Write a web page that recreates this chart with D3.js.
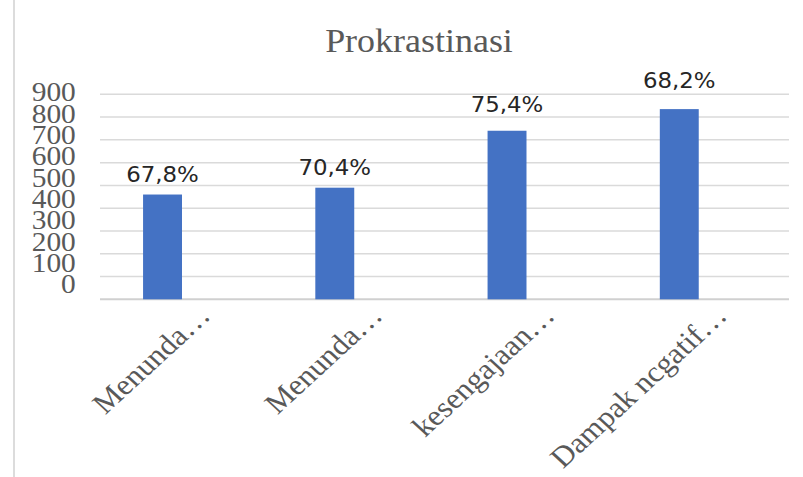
<!DOCTYPE html>
<html>
<head>
<meta charset="utf-8">
<script src="https://cdn.jsdelivr.net/npm/d3@7"></script>
<style>
  body { margin: 0; background: #fff; }
</style>
</head>
<body>
<svg id="chart" width="803" height="477"></svg>
<script>
// chart data
var title = "Prokrastinasi";
var categories = ["Menunda\u2026", "Menunda\u2026", "kesengajaan\u2026", "Dampak ncgatif\u2026"];
var values = [460, 490, 740, 835];
var valueLabels = ["67,8%", "70,4%", "75,4%", "68,2%"];
var yTicks = [0, 100, 200, 300, 400, 500, 600, 700, 800, 900];

// the source picture is a bit wider than tall, text gets the same stretch
var sx = 1.09;
var serif = "'Liberation Serif', 'Times New Roman', serif";
var grey = "#595959";

var svg = d3.select("#chart");

// left page border
svg.append("line")
    .attr("x1", 14).attr("x2", 14)
    .attr("y1", 0).attr("y2", 477)
    .attr("stroke", "#dcdcdc")
    .attr("stroke-width", 2);

var x = d3.scaleBand()
    .domain(d3.range(categories.length))
    .range([100, 789]);

var y = d3.scaleLinear()
    .domain([0, 900])
    .range([299.3, 94.3]);

// tick labels and value labels sit on their own (squeezed) scales in the picture
var yLabel = d3.scaleLinear().domain([0, 900]).range([292.7, 100.7]);
var yValue = d3.scaleLinear().domain([0, 900]).range([298.4, 71.5]);

// gridlines
svg.append("g")
    .selectAll("line")
    .data(yTicks)
    .enter().append("line")
    .attr("x1", 100)
    .attr("x2", 789)
    .attr("y1", d => y(d))
    .attr("y2", d => y(d))
    .attr("stroke", d => d == 0 ? "#d0d0d0" : "#dadada")
    .attr("stroke-width", d => d == 0 ? 2 : 1.5);

// y axis labels
var yAxis = svg.append("g")
    .attr("transform", "translate(78,0)")
    .call(d3.axisLeft(yLabel).tickValues(yTicks).tickSize(0).tickPadding(2));
yAxis.select(".domain").remove();
yAxis.selectAll("text")
    .attr("dy", 0)
    .attr("fill", grey)
    .style("font-family", serif)
    .style("font-size", "27px")
    .attr("transform", "scale(" + sx + ",1)");

// bars
svg.append("g")
    .selectAll("rect")
    .data(values)
    .enter().append("rect")
    .attr("x", (d, i) => x(i) + x.bandwidth() * 0.25)
    .attr("width", x.bandwidth() * 0.226)
    .attr("y", d => y(d))
    .attr("height", d => y(0) - y(d))
    .attr("fill", "#4472c4");

// value labels
svg.append("g")
    .selectAll("text")
    .data(values)
    .enter().append("text")
    .attr("transform", (d, i) => "translate(" + (x(i) + x.bandwidth() * 0.363) + "," + yValue(d) + ") scale(" + sx + ",1)")
    .attr("text-anchor", "middle")
    .attr("fill", "#262626")
    .style("font-family", "'DejaVu Sans', sans-serif")
    .style("font-size", "21px")
    .text((d, i) => valueLabels[i]);

// category labels, rotated
svg.append("g")
    .selectAll("text")
    .data(categories)
    .enter().append("text")
    .attr("transform", (d, i) => "translate(" + (x(i) + x.bandwidth() * 0.65) + "," + (y(0) + 18) + ") scale(" + sx + ",1) rotate(-45)")
    .attr("text-anchor", "end")
    .attr("fill", grey)
    .style("font-family", serif)
    .style("font-size", "29px")
    .text(d => d);

// title
svg.append("text")
    .attr("transform", "translate(419,52) scale(" + sx + ",1)")
    .attr("text-anchor", "middle")
    .attr("fill", grey)
    .style("font-family", serif)
    .style("font-size", "33px")
    .text(title);
</script>
</body>
</html>
